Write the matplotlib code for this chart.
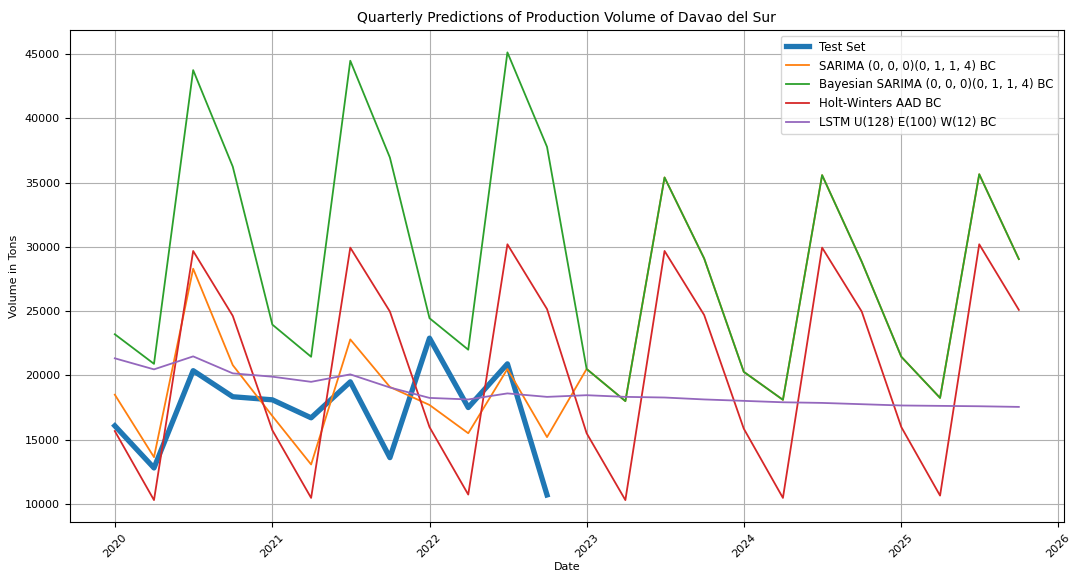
import matplotlib
matplotlib.use("Agg")
import matplotlib.pyplot as plt
import pandas as pd

dates = pd.date_range("2020-01-01", periods=24, freq="QS")

test_set = [16080, 12800, 20370, 18340, 18100, 16700, 19500, 13600,
            22900, 17500, 20900, 10700]
sarima = [18500, 13640, 28300, 20800, 16840, 13070, 22800, 19100,
          17700, 15500, 20500, 15200, 20500, 18000, 35400, 29100,
          20280, 18100, 35580, 28850, 21450, 18250, 35650, 29050]
bayes_sarima = [23200, 20900, 43750, 36240, 23950, 21450, 44480, 36950,
                24450, 22000, 45130, 37780, 20500, 18000, 35400, 29100,
                20280, 18100, 35580, 28850, 21450, 18250, 35650, 29050]
holt_winters = [15670, 10300, 29680, 24630, 15730, 10470, 29940, 24970,
                15980, 10730, 30200, 25160, 15500, 10300, 29680, 24700,
                15860, 10470, 29940, 24970, 15980, 10650, 30200, 25100]
lstm = [21330, 20470, 21480, 20160, 19900, 19500, 20080, 19060,
        18250, 18130, 18600, 18330, 18460, 18330, 18280, 18130,
        18020, 17910, 17860, 17760, 17660, 17630, 17600, 17550]

labels = ["Test Set",
          "SARIMA (0, 0, 0)(0, 1, 1, 4) BC",
          "Bayesian SARIMA (0, 0, 0)(0, 1, 1, 4) BC",
          "Holt-Winters AAD BC",
          "LSTM U(128) E(100) W(12) BC"]

fig = plt.figure(figsize=(10.71, 5.77), dpi=100)
ax = fig.add_axes([0.065, 0.0945, 0.9285, 0.8535])

ax.plot(dates[:len(test_set)], test_set, color="#1f77b4", linewidth=3.8, label=labels[0])
ax.plot(dates, sarima, color="#ff7f0e", linewidth=1.3, label=labels[1])
ax.plot(dates, bayes_sarima, color="#2ca02c", linewidth=1.3, label=labels[2])
ax.plot(dates, holt_winters, color="#d62728", linewidth=1.3, label=labels[3])
ax.plot(dates, lstm, color="#9467bd", linewidth=1.3, label=labels[4])

ax.set_title("Quarterly Predictions of Production Volume of Davao del Sur", fontsize=10)
ax.set_xlabel("Date", fontsize=8, labelpad=2)
ax.set_ylabel("Volume in Tons", fontsize=8)
ax.tick_params(axis="both", labelsize=8)
plt.setp(ax.get_xticklabels(), rotation=45)
ax.grid(True, color="#b0b0b0", linewidth=0.8)
ax.legend(loc="upper right", fontsize=8.5)

fig.savefig("out.png", dpi=100)
